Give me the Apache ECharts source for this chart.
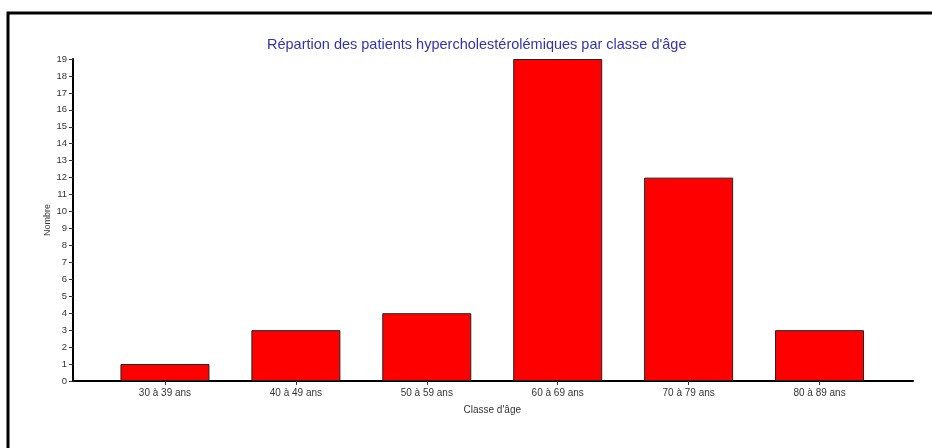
<!DOCTYPE html>
<html>
<head>
<meta charset="utf-8">
<script src="https://cdn.jsdelivr.net/npm/echarts@6/dist/echarts.min.js"></script>
<style>html,body{margin:0;padding:0;background:#fff;}#c{width:932px;height:448px;}</style>
</head>
<body>
<div id="c"></div>
<script>
const titleText = "Répartion des patients hypercholestérolémiques par classe d'âge";
const categories = ["30 à 39 ans", "40 à 49 ans", "50 à 59 ans", "60 à 69 ans", "70 à 79 ans", "80 à 89 ans"];
const values = [1, 3, 4, 19, 12, 3];
const yMin = 0, yMax = 19, yStep = 1;
const xName = "Classe d'âge";
const yName = "Nombre";

const font = "Arial, 'Liberation Sans', sans-serif";
const chart = echarts.init(document.getElementById('c'), null, {renderer: 'canvas'});
chart.setOption({
  backgroundColor: '#fff',
  animation: false,
  title: {
    text: titleText, left: 262, top: 32,
    textStyle: {color: '#3333aa', fontSize: 14.5, fontWeight: 'normal', fontFamily: font}
  },
  graphic: [{
    type: 'rect', shape: {x: 8, y: 13, width: 960, height: 480},
    style: {fill: 'none', stroke: '#000', lineWidth: 3}, silent: true
  }],
  grid: [
    {left: 73, right: 19, top: 59, bottom: 67},
    {left: 99.5, right: 47, top: 59, bottom: 67}
  ],
  xAxis: [
    {gridIndex: 0, type: 'category', data: categories, axisLine: {show: true, lineStyle: {color: '#000', width: 2}},
     axisTick: {show: false}, axisLabel: {show: false}, splitLine: {show: false}},
    {gridIndex: 1, type: 'category', data: categories, axisLine: {show: false},
     axisTick: {show: true, alignWithLabel: true, length: 4, lineStyle: {color: '#333'}},
     axisLabel: {fontSize: 10, color: '#333', fontFamily: font, margin: 7},
     name: xName, nameLocation: 'middle', nameGap: 24,
     nameTextStyle: {fontSize: 10, color: '#333', fontFamily: font}}
  ],
  yAxis: [
    {gridIndex: 0, type: 'value', min: yMin, max: yMax, interval: yStep,
     axisLine: {show: true, lineStyle: {color: '#000', width: 2}},
     axisTick: {show: true, length: 4, lineStyle: {color: '#333'}},
     axisLabel: {fontSize: 9.5, color: '#333', fontFamily: font, margin: 6},
     splitLine: {show: false},
     name: yName, nameLocation: 'middle', nameGap: 21, nameMoveOverlap: false,
     nameTextStyle: {fontSize: 9, color: '#333', fontFamily: font}},
    {gridIndex: 1, type: 'value', min: yMin, max: yMax, interval: yStep, show: false}
  ],
  series: [{
    type: 'bar', xAxisIndex: 1, yAxisIndex: 1, data: values, barWidth: 89,
    itemStyle: {color: '#ff0000', borderColor: '#222', borderWidth: 1}
  }]
});
</script>
</body>
</html>
